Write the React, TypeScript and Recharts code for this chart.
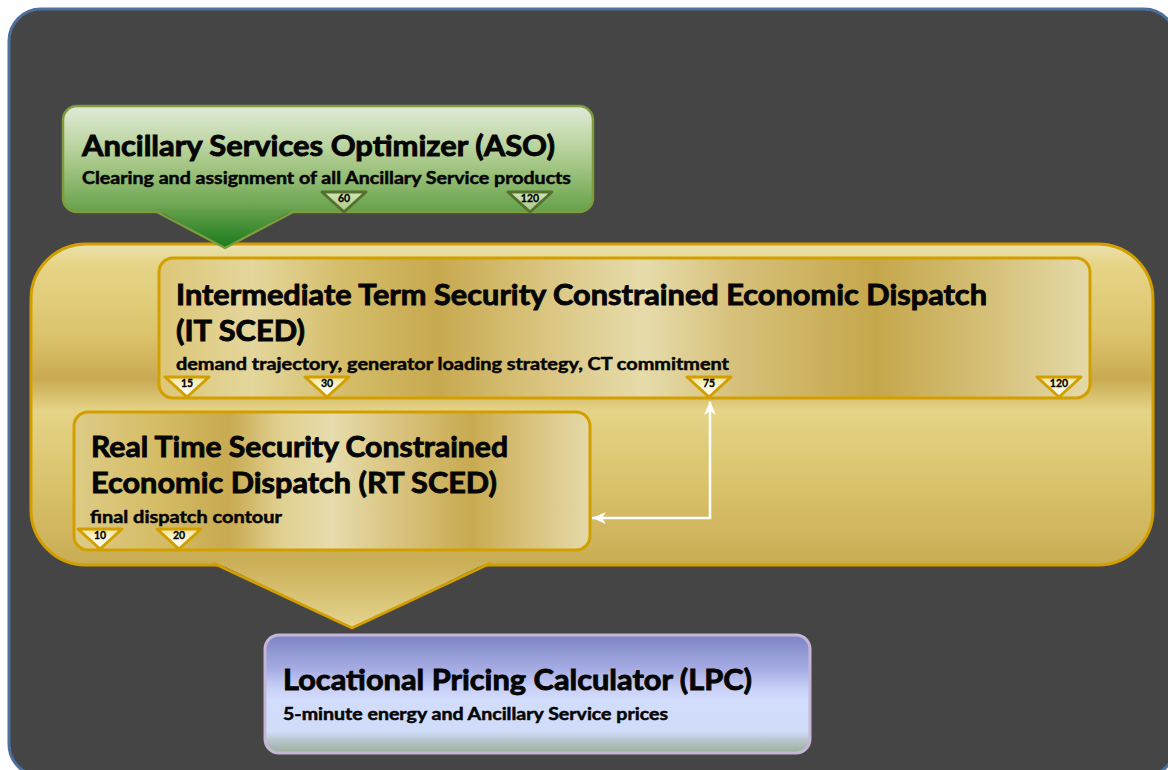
import React from "react";
import { ComposedChart, XAxis, YAxis, ReferenceArea, Scatter, Line } from "recharts";

const W = 1168;
const H = 770;

// boxes in layout units (x1..x2, y1..y2)
const boxes = [
  { id: "frame", x1: 9, x2: 1176, y1: 9, y2: 776 },
  { id: "container", x1: 31, x2: 1153, y1: 244, y2: 565 },
  { id: "aso", x1: 63, x2: 593, y1: 106, y2: 212 },
  { id: "it", x1: 159, x2: 1090, y1: 258, y2: 398 },
  { id: "rt", x1: 74, x2: 590, y1: 412, y2: 550 },
  { id: "lpc", x1: 265, x2: 810, y1: 635, y2: 753 },
];

// downward pointers hanging off the boxes
const pointers = [
  { id: "goldDown", x1: 213, x2: 491, y1: 561, y2: 628 },
  { id: "asoDown", x1: 155, x2: 295, y1: 209, y2: 248 },
];

// minute markers (apex sits on the box bottom edge)
const asoMarks = [
  { x: 344, y: 212, label: "60" },
  { x: 530, y: 212, label: "120" },
];
const itMarks = [
  { x: 187, y: 397, label: "15" },
  { x: 327, y: 397, label: "30" },
  { x: 709, y: 397, label: "75" },
  { x: 1059, y: 397, label: "120" },
];
const rtMarks = [
  { x: 100, y: 549, label: "10" },
  { x: 179, y: 549, label: "20" },
];

// feedback arrow RT SCED <- 75 min
const feedback = [
  { x: 592, y: 518 },
  { x: 710, y: 518 },
  { x: 710, y: 402 },
];
const arrowTips = [
  { x: 592, y: 518, dir: "left" },
  { x: 710, y: 401, dir: "up" },
];

const titles = [
  { x: 82, y: 156, end: 555, text: "Ancillary Services Optimizer (ASO)" },
  { x: 176, y: 305, end: 987, text: "Intermediate Term Security Constrained  Economic Dispatch" },
  { x: 176, y: 341, end: 305, text: "(IT SCED)" },
  { x: 91, y: 457, end: 508, text: "Real Time Security Constrained" },
  { x: 91, y: 493, end: 497, text: "Economic Dispatch (RT SCED)" },
  { x: 283, y: 690, end: 752, text: "Locational Pricing Calculator (LPC)" },
];
const notes = [
  { x: 82, y: 184, end: 571, text: "Clearing and assignment of all Ancillary Service products" },
  { x: 176, y: 370, end: 729, text: "demand trajectory, generator loading strategy, CT commitment" },
  { x: 90, y: 523, end: 282, text: "final dispatch contour" },
  { x: 283, y: 720, end: 668, text: "5-minute energy and Ancillary Service prices" },
];

const FONT = "Lato, 'Open Sans', sans-serif";
const GOLD = "#d39f00";

const boxStyle: Record<string, { fill: string; stroke: string; sw: number; r: number }> = {
  frame: { fill: "#454545", stroke: "#4e6e9c", sw: 3, r: 32 },
  container: { fill: "url(#goldV)", stroke: GOLD, sw: 3, r: 55 },
  aso: { fill: "url(#greenV)", stroke: "#7d9d3d", sw: 2.5, r: 14 },
  it: { fill: "url(#goldIT)", stroke: GOLD, sw: 3, r: 14 },
  rt: { fill: "url(#goldRT)", stroke: GOLD, sw: 3, r: 14 },
  lpc: { fill: "url(#lavV)", stroke: "#c6b6d6", sw: 3, r: 14 },
};

const pointerStyle: Record<string, { fill: string; stroke: string; sw: number }> = {
  goldDown: { fill: "url(#goldDownG)", stroke: GOLD, sw: 3 },
  asoDown: { fill: "url(#greenDownG)", stroke: "#7d9d3d", sw: 2.5 },
};

function Gradients() {
  return (
    <defs>
      <linearGradient id="goldV" x1="0" y1="0" x2="0" y2="1">
        <stop offset="0" stopColor="#ebe1b0" />
        <stop offset="0.06" stopColor="#e6d588" />
        <stop offset="0.28" stopColor="#dcc46c" />
        <stop offset="0.42" stopColor="#c9aa52" />
        <stop offset="0.52" stopColor="#e5d488" />
        <stop offset="0.75" stopColor="#d9c26a" />
        <stop offset="1" stopColor="#c9ad55" />
      </linearGradient>
      <linearGradient id="goldDownG" x1="0" y1="0" x2="0" y2="1">
        <stop offset="0" stopColor="#cbae56" />
        <stop offset="1" stopColor="#e4d58f" />
      </linearGradient>
      <linearGradient id="goldIT" x1="0" y1="0" x2="1" y2="0">
        <stop offset="0" stopColor="#dcc676" />
        <stop offset="0.1" stopColor="#e4d69c" />
        <stop offset="0.2" stopColor="#d4bd6a" />
        <stop offset="0.3" stopColor="#c7a94f" />
        <stop offset="0.4" stopColor="#d8c27a" />
        <stop offset="0.52" stopColor="#e6dcab" />
        <stop offset="0.62" stopColor="#d6c07a" />
        <stop offset="0.77" stopColor="#c5a74b" />
        <stop offset="0.9" stopColor="#d6c27c" />
        <stop offset="1" stopColor="#e4daa8" />
      </linearGradient>
      <linearGradient id="goldRT" x1="0" y1="0" x2="1" y2="0">
        <stop offset="0" stopColor="#ddcb86" />
        <stop offset="0.15" stopColor="#d6be68" />
        <stop offset="0.3" stopColor="#c8aa50" />
        <stop offset="0.4" stopColor="#e0d090" />
        <stop offset="0.5" stopColor="#e6dcac" />
        <stop offset="0.6" stopColor="#dcc888" />
        <stop offset="0.77" stopColor="#c8aa50" />
        <stop offset="0.88" stopColor="#d8c27c" />
        <stop offset="1" stopColor="#e4daa8" />
      </linearGradient>
      <linearGradient id="greenV" x1="0" y1="0" x2="0" y2="1">
        <stop offset="0" stopColor="#e0ead8" />
        <stop offset="0.3" stopColor="#c3d9ab" />
        <stop offset="0.6" stopColor="#9fc37f" />
        <stop offset="1" stopColor="#64a04a" />
      </linearGradient>
      <linearGradient id="greenDownG" x1="0" y1="0" x2="0" y2="1">
        <stop offset="0" stopColor="#64a04a" />
        <stop offset="1" stopColor="#1a7a1c" />
      </linearGradient>
      <linearGradient id="lavV" x1="0" y1="0" x2="0" y2="1">
        <stop offset="0" stopColor="#7c84c4" />
        <stop offset="0.3" stopColor="#a8aee4" />
        <stop offset="0.45" stopColor="#c8d0f6" />
        <stop offset="0.55" stopColor="#d2dcfc" />
        <stop offset="0.82" stopColor="#d0dcf8" />
        <stop offset="0.9" stopColor="#b4c4c8" />
        <stop offset="1" stopColor="#9cae9c" />
      </linearGradient>
      <linearGradient id="markGold" x1="0" y1="0" x2="0" y2="1">
        <stop offset="0" stopColor="#efe398" />
        <stop offset="0.5" stopColor="#fcf8dc" />
        <stop offset="1" stopColor="#ffffff" />
      </linearGradient>
      <linearGradient id="markGreen" x1="0" y1="0" x2="0" y2="1">
        <stop offset="0" stopColor="#d4e5b6" />
        <stop offset="1" stopColor="#a6c686" />
      </linearGradient>
    </defs>
  );
}

function boxShape(id: string) {
  return (p: any) => {
    const s = boxStyle[id];
    return (
      <g>
        {id === "frame" && <Gradients />}
        <rect x={p.x} y={p.y} width={p.width} height={p.height} rx={s.r} ry={s.r}
          fill={s.fill} stroke={s.stroke} strokeWidth={s.sw} />
      </g>
    );
  };
}

function pointerShape(id: string) {
  return (p: any) => {
    const s = pointerStyle[id];
    const { x, y, width: w, height: h } = p;
    return (
      <g>
        <path d={`M${x},${y} L${x + w},${y} L${x + w / 2},${y + h} Z`} fill={s.fill} />
        <path d={`M${x},${y + 2} L${x + w / 2},${y + h} L${x + w},${y + 2}`} fill="none"
          stroke={s.stroke} strokeWidth={s.sw} strokeLinejoin="round" />
      </g>
    );
  };
}

function markerShape(fill: string, stroke: string) {
  return (p: any) => {
    const { cx, cy, payload } = p;
    const hw = 22;
    const h = 20;
    return (
      <g>
        <path d={`M${cx - hw},${cy - h} L${cx + hw},${cy - h} L${cx},${cy} Z`} fill={fill}
          stroke={stroke} strokeWidth={3} strokeLinejoin="round" />
        <text x={cx} y={cy - h + 10} textAnchor="middle" fontFamily={FONT} fontWeight={700}
          fontSize={10.5} fill="#000" stroke="#000" strokeWidth={0.3}>{payload.label}</text>
      </g>
    );
  };
}

function textShape(size: number, weight: number) {
  return (p: any) => {
    const { cx, cy, payload } = p;
    return (
      <text x={cx} y={cy} textLength={payload.end - payload.x} lengthAdjust="spacingAndGlyphs"
        fontFamily={FONT} fontWeight={700} fontSize={size} fill="#050505"
        stroke="#050505" strokeWidth={weight}>{payload.text}</text>
    );
  };
}

function tipShape(p: any) {
  const { cx, cy, payload } = p;
  const L = 14;
  const hw = 6;
  const n = 4;
  const d = payload.dir === "up"
    ? `M${cx},${cy} L${cx - hw},${cy + L} L${cx},${cy + L - n} L${cx + hw},${cy + L} Z`
    : `M${cx},${cy} L${cx + L},${cy - hw} L${cx + L - n},${cy} L${cx + L},${cy + hw} Z`;
  return <path d={d} fill="#ffffff" />;
}

export default function App() {
  return (
    <div style={{ position: "absolute", left: 0, top: 0, width: W, height: H, background: "#fff" }}>
      <ComposedChart width={W} height={H} margin={{ top: 0, right: 0, bottom: 0, left: 0 }}>
        <XAxis type="number" dataKey="x" domain={[0, W]} allowDataOverflow hide />
        <YAxis type="number" dataKey="y" domain={[0, H]} allowDataOverflow reversed hide />

        <ReferenceArea {...boxes[0]} ifOverflow="visible" shape={boxShape("frame")} />
        <ReferenceArea {...boxes[1]} ifOverflow="visible" shape={boxShape("container")} />
        <ReferenceArea {...pointers[0]} ifOverflow="visible" shape={pointerShape("goldDown")} />
        <ReferenceArea {...boxes[2]} ifOverflow="visible" shape={boxShape("aso")} />
        <ReferenceArea {...pointers[1]} ifOverflow="visible" shape={pointerShape("asoDown")} />
        <ReferenceArea {...boxes[3]} ifOverflow="visible" shape={boxShape("it")} />
        <ReferenceArea {...boxes[4]} ifOverflow="visible" shape={boxShape("rt")} />
        <ReferenceArea {...boxes[5]} ifOverflow="visible" shape={boxShape("lpc")} />

        <Line data={feedback} dataKey="y" type="linear" stroke="#ffffff" strokeWidth={2.5}
          dot={false} activeDot={false} isAnimationActive={false} />

        <Scatter data={titles} shape={textShape(29, 0.9)} isAnimationActive={false} />
        <Scatter data={notes} shape={textShape(16.5, 0.5)} isAnimationActive={false} />
        <Scatter data={asoMarks} shape={markerShape("url(#markGreen)", "#55722c")} isAnimationActive={false} />
        <Scatter data={itMarks} shape={markerShape("url(#markGold)", GOLD)} isAnimationActive={false} />
        <Scatter data={rtMarks} shape={markerShape("url(#markGold)", GOLD)} isAnimationActive={false} />
        <Scatter data={arrowTips} shape={tipShape} isAnimationActive={false} />
      </ComposedChart>
    </div>
  );
}
